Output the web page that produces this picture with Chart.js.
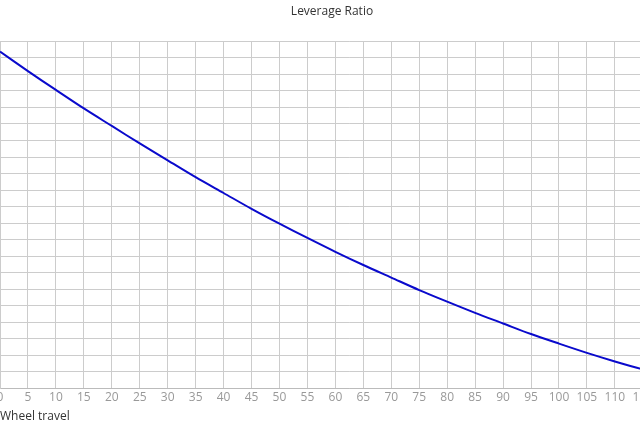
<!DOCTYPE html>
<html>
<head>
<meta charset="utf-8">
<title>Leverage Ratio</title>
<script src="https://cdn.jsdelivr.net/npm/chart.js@4"></script>
<style>
  html, body { margin: 0; padding: 0; background: #fff; }
  #wrap { position: relative; width: 640px; height: 426px; overflow: hidden; }
  #myChart-leverage { position: absolute; left: -47px; top: 0; }
</style>
</head>
<body>
<div id="wrap">
  <canvas id="myChart-leverage" width="758" height="426"></canvas>
</div>
<script>
  // DATA - WHEEL TRAVEL (mm) AND LEVERAGE RATIO
  const wheelTravel = [0, 5, 10, 15, 20, 25, 30, 35, 40, 45, 50, 55, 60, 65, 70, 75, 80, 85, 90, 95, 100, 105, 110, 115, 120];
  const leverageRatio = [3.019, 2.960, 2.903, 2.847, 2.794, 2.741, 2.690, 2.639, 2.591, 2.543, 2.498, 2.455, 2.413,
                         2.373, 2.335, 2.297, 2.262, 2.228, 2.196, 2.164, 2.135, 2.107, 2.081, 2.057, 2.036];
  const yMin = 2.0;
  const yMax = 3.05;
  const yStep = 0.05;
  const xMax = 125;
  const xStep = 5;

  let myLeverageChart;
  const gridColor = '#cccccc';
  const fontFamily = '"Open Sans", "Noto Sans", sans-serif';

  function createLeverageChart() {
    const ctx = document.getElementById('myChart-leverage').getContext('2d');
    const points = wheelTravel.map((x, i) => ({ x: x, y: leverageRatio[i] }));

    myLeverageChart = new Chart(ctx, {
      type: 'line',
      data: {
        datasets: [{
          label: 'Leverage Ratio',
          data: points,
          borderColor: '#0a0acc',
          borderWidth: 2,
          pointRadius: 0,
          fill: false,
          tension: 0.3
        }]
      },
      options: {
        responsive: false,
        animation: false,
        layout: { padding: { left: 0, right: 0, top: 0, bottom: 0 } },
        plugins: {
          legend: { display: false },
          tooltip: { enabled: false },
          title: {
            display: true,
            text: 'Leverage Ratio',
            color: '#333',
            font: { family: fontFamily, size: 12, weight: 'normal' },
            padding: { top: 4, bottom: 23 }
          }
        },
        scales: {
          x: {
            type: 'linear',
            min: 0,
            max: xMax,
            grid: { color: gridColor, drawTicks: false },
            border: { color: '#bbbbbb' },
            ticks: {
              stepSize: xStep,
              autoSkip: false,
              maxRotation: 0,
              padding: 2,
              color: '#999',
              font: { family: fontFamily, size: 12 }
            },
            title: {
              display: true,
              text: 'Wheel travel',
              align: 'start',
              color: '#333',
              font: { family: fontFamily, size: 12 },
              padding: { top: 3, bottom: 2 }
            }
          },
          y: {
            min: yMin,
            max: yMax,
            grid: { color: gridColor, drawTicks: false },
            border: { color: gridColor },
            ticks: {
              stepSize: yStep,
              autoSkip: false,
              maxTicksLimit: 40,
              color: '#999',
              font: { family: fontFamily, size: 12 }
            },
            afterFit: function (scale) { scale.width = 47; }
          }
        }
      }
    });
  }

  window.onload = function () {
    createLeverageChart();
  };
</script>
</body>
</html>
